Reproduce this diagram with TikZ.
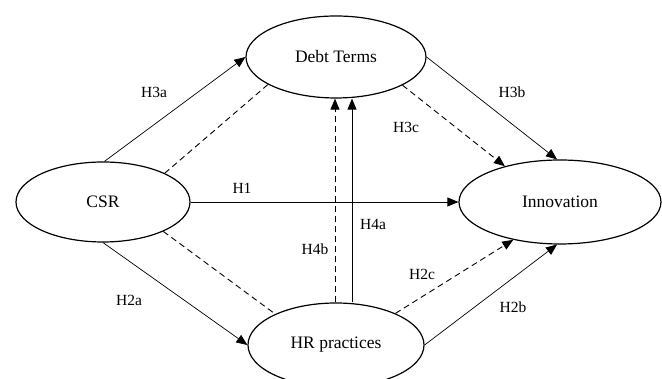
\documentclass[tikz,border=0pt]{standalone}
\usepackage{fontspec}
\setmainfont{Liberation Serif}
\usetikzlibrary{arrows.meta,shapes.geometric}

\tikzset{
  construct/.style={ellipse, draw, line width=1.2pt, inner sep=0pt,
    font=\fontsize{17.5}{21}\selectfont},
  link/.style={line width=0.7pt, -{Triangle[length=11pt,width=9pt]}},
  dashlink/.style={line width=0.9pt, dash pattern=on 6pt off 4pt},
  hyp/.style={font=\fontsize{15.5}{18}\selectfont, inner sep=0pt}
}

\begin{document}
\begin{tikzpicture}[x=1pt,y=1pt]
        \useasboundingbox (0,0) rectangle (662,379);

        % constructs
        \node[construct, minimum width=174pt, minimum height=80pt] (csr) at (103,177) {CSR};
        \node[construct, minimum width=180pt, minimum height=82pt] (debt) at (336,322) {Debt Terms};
        \node[construct, minimum width=202pt, minimum height=84pt] (innov) at (560,177) {Innovation};
        \node[construct, minimum width=176pt, minimum height=84pt] (hr) at (336,34) {HR practices};

        % direct paths
        \draw[link] (csr.east) -- (innov.west);
        \draw[link] (csr.88) -- (debt.west);
        \draw[link] (debt.east) -- (innov.94);
        \draw[link] (csr.270) -- (hr.west);
        \draw[link] (hr.east) -- (innov.266);
        \draw[link] ([xshift=16pt]hr.north) -- ([xshift=16pt]hr.north |- debt.south);

        % mediated paths
        \draw[dashlink] (csr.25) -- (debt.202);
        \draw[dashlink] (csr.-26) -- (hr.153);
        \draw[dashlink, -{Triangle[length=11pt,width=9pt]}] (debt.-23) -- (innov.147);
        \draw[dashlink, -{Triangle[length=11pt,width=9pt]}] (hr.28) -- (innov.219);
        \draw[dashlink, -{Triangle[length=11pt,width=9pt]}] ([xshift=-1pt]hr.north) -- ([xshift=-1pt]hr.north |- debt.south);

        % hypotheses
        \node[hyp] (h3a) at (154,287) {H3a};
        \node[hyp] (h3b) at (512,287) {H3b};
        \node[hyp] (h3c) at (406,252) {H3c};
        \node[hyp] (h1) at (242,191) {H1};
        \node[hyp] (h4a) at (373,155) {H4a};
        \node[hyp] (h4b) at (315,130) {H4b};
        \node[hyp] (h2c) at (422,105) {H2c};
        \node[hyp] (h2a) at (129,79) {H2a};
        \node[hyp] (h2b) at (513,72) {H2b};
    \end{tikzpicture}
\end{document}
